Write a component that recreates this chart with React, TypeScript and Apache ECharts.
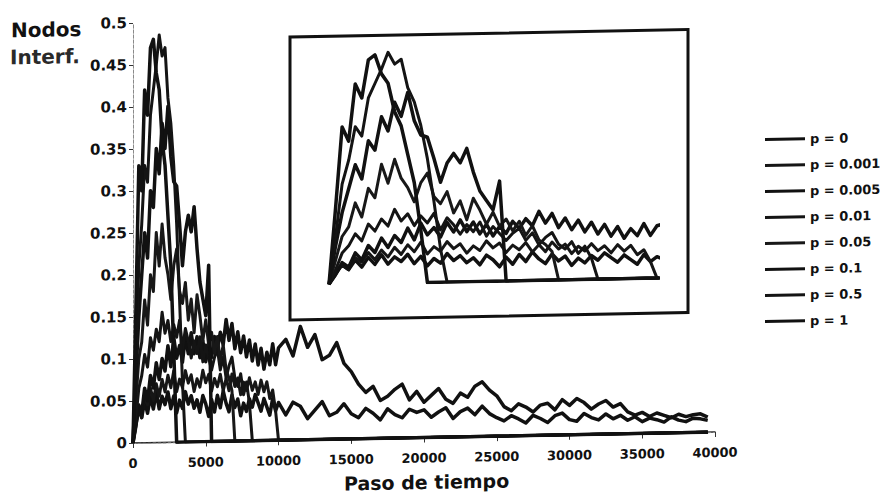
import React, { useEffect, useRef } from "react";
import * as echarts from "echarts";

// Time steps (Paso de tiempo)
const stepsEarly = [0, 200, 400, 600, 800, 1000, 1200, 1400, 1600, 1800, 2000, 2200, 2400, 2600, 2800, 3000, 3200, 3400, 3600, 3800, 4000, 4200, 4400, 4600, 4800, 5000, 5200, 5400, 5600, 5800, 6000, 6200, 6400, 6600, 6800, 7000, 7200, 7400, 7600, 7800, 8000, 8200, 8400, 8600, 8800, 9000, 9200, 9400, 9600, 9800, 10000];
const stepsLate = [10500, 11000, 11500, 12000, 12500, 13000, 13500, 14000, 14500, 15000, 15500, 16000, 16500, 17000, 17500, 18000, 18500, 19000, 19500, 20000, 20500, 21000, 21500, 22000, 22500, 23000, 23500, 24000, 24500, 25000, 25500, 26000, 26500, 27000, 27500, 28000, 28500, 29000, 29500, 30000, 30500, 31000, 31500, 32000, 32500, 33000, 33500, 34000, 34500, 35000, 35500, 36000, 36500, 37000, 37500, 38000, 38500, 39000, 39500];
const steps = [...stepsEarly, ...stepsLate];

// Series (Nodos Interf.) — extinct series end at 0 and stay there
const pZero = [
  0, 0.025, 0.04, 0.03, 0.05, 0.035, 0.055, 0.04, 0.06, 0.04,
  0.055, 0.045, 0.06, 0.04, 0.055, 0.035, 0.05, 0.04, 0.06, 0.045,
  0.055, 0.04, 0.05, 0.035, 0.055, 0.045, 0.03, 0.05, 0.035, 0.055,
  0.04, 0.06, 0.045, 0.035, 0.055, 0.04, 0.05, 0.03, 0.045, 0.035,
  0.05, 0.04, 0.055, 0.045, 0.035, 0.05, 0.04, 0.03, 0.05, 0.035, 0.045,
  0.03, 0.045, 0.04, 0.025, 0.035, 0.045, 0.028, 0.032, 0.042, 0.03,
  0.025, 0.036, 0.03, 0.022, 0.035, 0.028, 0.024, 0.034, 0.03, 0.033,
  0.024, 0.03, 0.035, 0.022, 0.03, 0.034, 0.026, 0.036, 0.027, 0.022,
  0.018, 0.024, 0.02, 0.015, 0.024, 0.02, 0.015, 0.023, 0.026, 0.018,
  0.016, 0.025, 0.02, 0.017, 0.024, 0.018, 0.022, 0.016, 0.02, 0.014,
  0.018, 0.016, 0.013, 0.019, 0.015, 0.013, 0.017, 0.016, 0.014,
];
const pP001 = [
  0, 0.02, 0.04, 0.03, 0.055, 0.045, 0.065, 0.05, 0.07, 0.055,
  0.075, 0.06, 0.08, 0.065, 0.085, 0.06, 0.075, 0.065, 0.085, 0.07,
  0.08, 0.06, 0.075, 0.065, 0.085, 0.07, 0.08, 0.06, 0.075, 0.065,
  0.08, 0.06, 0.075, 0.06, 0.08, 0.065, 0.075, 0.055, 0.07, 0.06,
  0.075, 0.06, 0.07, 0.055, 0.072, 0.058, 0.07, 0.05, 0.06, 0.035, 0,
];
const pP005 = [
  0, 0.02, 0.045, 0.035, 0.065, 0.05, 0.08, 0.065, 0.095, 0.075,
  0.1, 0.085, 0.115, 0.09, 0.125, 0.1, 0.115, 0.095, 0.125, 0.105,
  0.13, 0.105, 0.125, 0.1, 0.12, 0.095, 0.115, 0.1, 0.125, 0.11,
  0.13, 0.115, 0.145, 0.12, 0.14, 0.11, 0.13, 0.105, 0.125, 0.1,
  0.12, 0.095, 0.115, 0.09, 0.11, 0.085, 0.105, 0.09, 0.115, 0.09, 0.11,
  0.12, 0.1, 0.135, 0.11, 0.125, 0.095, 0.1, 0.115, 0.09, 0.08,
  0.065, 0.055, 0.062, 0.045, 0.05, 0.058, 0.064, 0.045, 0.055, 0.042,
  0.05, 0.058, 0.045, 0.04, 0.052, 0.047, 0.06, 0.065, 0.055, 0.048,
  0.035, 0.03, 0.038, 0.034, 0.028, 0.036, 0.038, 0.03, 0.042, 0.035,
  0.043, 0.038, 0.03, 0.036, 0.04, 0.032, 0.036, 0.026, 0.022, 0.025,
  0.02, 0.024, 0.021, 0.018, 0.022, 0.019, 0.021, 0.022, 0.018,
];
const pP01 = [
  0, 0.03, 0.065, 0.08, 0.105, 0.09, 0.125, 0.11, 0.135, 0.12,
  0.155, 0.13, 0.145, 0.12, 0.14, 0.125, 0.145, 0.11, 0.135, 0.12,
  0.1, 0.12, 0.105, 0.125, 0.095, 0.115, 0.1, 0.085, 0.1, 0.11,
  0.085, 0.1, 0.075, 0.09, 0.1, 0.075, 0.065, 0.08, 0.055, 0.07,
  0.045, 0,
];
const pP05 = [
  0, 0.05, 0.1, 0.12, 0.17, 0.14, 0.2, 0.18, 0.25, 0.21,
  0.26, 0.22, 0.2, 0.17, 0.21, 0.23, 0.18, 0.165, 0.19, 0.145,
  0.17, 0.13, 0.175, 0.15, 0.12, 0.145, 0.115, 0.13, 0.105, 0.125,
  0.095, 0.115, 0.085, 0.075, 0.06, 0,
];
const pP1 = [
  0, 0.08, 0.15, 0.2, 0.25, 0.22, 0.3, 0.28, 0.35, 0.32,
  0.38, 0.35, 0.4, 0.34, 0.31, 0.305, 0.26, 0.21, 0.25, 0.27,
  0.25, 0.28, 0.23, 0.19, 0.17, 0.15, 0.21, 0,
];
const pHalf = [0, 0.1, 0.21, 0.26, 0.33, 0.31, 0.39, 0.42, 0.45, 0.485, 0.46, 0.47, 0.41, 0.38, 0.33, 0.26, 0.17, 0.07, 0];
const pOne = [0, 0.16, 0.33, 0.3, 0.42, 0.39, 0.47, 0.48, 0.44, 0.42, 0.36, 0.33, 0.27, 0.21, 0.11, 0];

const seriesNames = ["p = 0", "p = 0.001", "p = 0.005", "p = 0.01", "p = 0.05", "p = 0.1", "p = 0.5", "p = 1"];
const seriesValues = [pZero, pP001, pP005, pP01, pP05, pP1, pHalf, pOne];
const seriesWidths = [3.5, 3, 3.5, 3, 3, 3.5, 3, 3.5];
const seriesColors = ["#111", "#161616", "#111", "#141414", "#181818", "#111", "#141414", "#111"];

const yTicksMain = { min: 0, max: 0.5, interval: 0.05 };
const xTicksMain = { min: 0, max: 40000, interval: 5000 };
const yTicksInset = { min: 0, max: 0.5, interval: 0.5 };
const xTicksInset = { min: 0, max: 10000, interval: 10000 };

function toPairs(vals: number[]): [number, number][] {
  const pairs: [number, number][] = vals.map((v, i) => [steps[i], v]);
  if (vals.length < steps.length) pairs.push([steps[steps.length - 1], vals[vals.length - 1]]);
  return pairs;
}

const FONT = "DejaVu Sans";
const dash = [3, 2];

export default function App() {
  const ref = useRef<HTMLDivElement>(null);
  useEffect(() => {
    if (!ref.current) return;
    const chart = echarts.init(ref.current, null, { renderer: "svg" });
    const fmtY = (v: number) => String(+v.toFixed(2));
    const fmtX = (v: number) => String(v);
    const borderAxis = {
      show: true,
      axisLine: { show: true, lineStyle: { color: "#8a8a8a", type: dash, width: 1 } },
      axisTick: { show: false },
      axisLabel: { show: false },
      splitLine: { show: false },
    };

    const series: any[] = [];
    seriesNames.forEach((name, k) => {
      const data = toPairs(seriesValues[k]);
      const base = {
        name,
        type: "line",
        symbol: "none",
        showSymbol: false,
        lineStyle: { width: seriesWidths[k], color: seriesColors[k], join: "round" },
        itemStyle: { color: seriesColors[k] },
        data,
        z: 3,
      };
      series.push({ ...base, xAxisIndex: 0, yAxisIndex: 0 });
      series.push({ ...base, xAxisIndex: 2, yAxisIndex: 2, clip: true, z: 5 });
    });

    chart.setOption({
      animation: false,
      backgroundColor: "#ffffff",
      textStyle: { fontFamily: FONT },
      grid: [
        { left: 133, top: 23, width: 582, height: 420 },
        { left: 329, top: 50, width: 328, height: 238 },
      ],
      xAxis: [
        {
          type: "value", gridIndex: 0, ...xTicksMain,
          axisLine: { show: true, onZero: false, lineStyle: { color: "#222", width: 1.5 } },
          axisTick: { show: true, length: 5, lineStyle: { color: "#333" } },
          axisLabel: { formatter: fmtX, margin: 14, fontSize: 13, fontWeight: "bold", color: "#111", fontFamily: FONT },
          splitLine: { show: false },
        },
        { type: "value", gridIndex: 0, position: "top", ...xTicksMain, ...borderAxis },
        {
          type: "value", gridIndex: 1, ...xTicksInset,
          axisLine: { show: true, onZero: false, lineStyle: { color: "#222", width: 1.5 } },
          axisTick: { show: false },
          axisLabel: { formatter: fmtX, margin: 7, fontSize: 13, fontWeight: "bold", color: "#111", fontFamily: FONT },
          splitLine: { show: false },
        },
        { type: "value", gridIndex: 1, position: "top", ...xTicksInset, ...borderAxis },
      ],
      yAxis: [
        {
          type: "value", gridIndex: 0, ...yTicksMain,
          axisLine: { show: true, onZero: false, lineStyle: { color: "#777", type: dash, width: 1 } },
          axisTick: { show: true, length: 4, lineStyle: { color: "#333" } },
          axisLabel: { formatter: fmtY, margin: 6, fontSize: 15, fontWeight: "bold", color: "#111", fontFamily: FONT },
          splitLine: { show: false },
        },
        { type: "value", gridIndex: 0, position: "right", ...yTicksMain, ...borderAxis },
        {
          type: "value", gridIndex: 1, ...yTicksInset,
          axisLine: { show: true, onZero: false, lineStyle: { color: "#777", type: dash, width: 1 } },
          axisTick: { show: true, length: 3, lineStyle: { color: "#333" } },
          axisLabel: { formatter: fmtY, margin: 5, fontSize: 13, fontWeight: "bold", color: "#111", fontFamily: FONT },
          splitLine: { show: false },
        },
        { type: "value", gridIndex: 1, position: "right", ...yTicksInset, ...borderAxis },
      ],
      legend: {
        data: seriesNames,
        orient: "vertical",
        left: 760,
        top: 140,
        itemWidth: 40,
        itemHeight: 14,
        itemGap: 13,
        icon: "path://M0,5.5 L40,5.5 L40,8.5 L0,8.5 Z",
        textStyle: { fontSize: 13, fontWeight: "bold", color: "#111", fontFamily: FONT },
      },
      graphic: [
        {
          type: "rect", z: 1,
          shape: { x: 290, y: 40, width: 398, height: 283 },
          style: { fill: "#ffffff", stroke: "#111", lineWidth: 3 },
        },
        {
          type: "text", left: 11, top: 18,
          style: { text: "Nodos", fontSize: 20, fontWeight: "bold", fontFamily: FONT, fill: "#111" },
        },
        {
          type: "text", left: 10, top: 45,
          style: { text: "Interf.", fontSize: 20, fontWeight: "bold", fontFamily: FONT, fill: "#2a2a2a" },
        },
        {
          type: "text", left: 344, top: 478,
          style: { text: "Paso de tiempo", fontSize: 19, fontWeight: "bold", fontFamily: FONT, fill: "#111" },
        },
      ],
      series,
    });
    return () => chart.dispose();
  }, []);
  return (
    <div
      ref={ref}
      style={{
        position: "absolute",
        left: 0,
        top: 0,
        width: 882,
        height: 498,
        transform: "skewY(-1.08deg)",
        transformOrigin: "133px 233px",
      }}
    />
  );
}
